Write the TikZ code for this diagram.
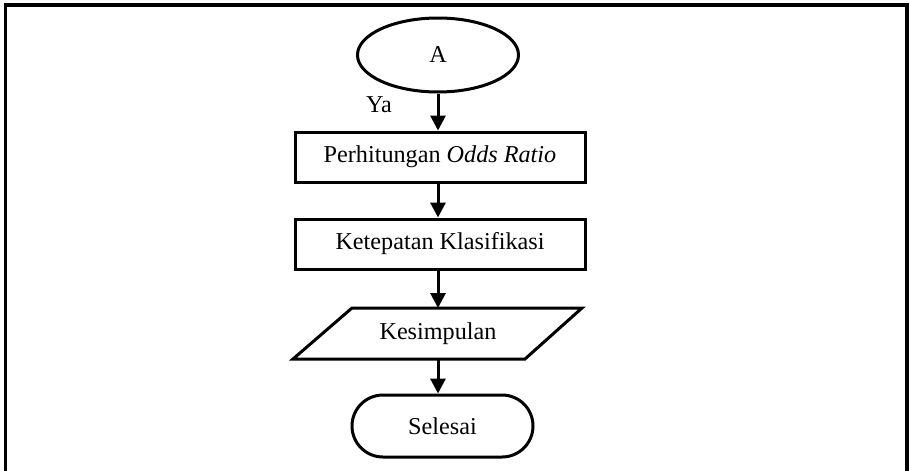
\documentclass[tikz,border=0pt]{standalone}
\usepackage{fontspec}
\setmainfont{Liberation Serif}
\usetikzlibrary{arrows.meta,shapes.geometric}
\begin{document}
\begin{tikzpicture}[x=1pt,y=-1pt,
  lw/.style={line width=3pt},
  txt/.style={font=\fontsize{24.2}{27}\selectfont},
  box/.style={lw,draw,minimum width=290pt,minimum height=50pt,inner sep=0pt,txt},
  conn/.style={line width=3pt,-{Triangle[width=15pt,length=15pt]}}]
\useasboundingbox (0,0) rectangle (910,471);
% frame
\draw[line width=3.2pt] (5.5,480) -- (5.5,5) -- (907,5) -- (907,480);
% start connector
\node[lw,draw,ellipse,minimum width=161pt,minimum height=74pt,inner sep=0pt,txt] (a) at (438,55) {A};
\node[txt] (ya) at (379,105) {Ya};
\node[box] (b1) at (440,157) {Perhitungan \textit{Odds Ratio}};
\node[box] (b2) at (440,244) {Ketepatan Klasifikasi};
% parallelogram
\coordinate (p1) at (352,308);
\coordinate (p2) at (582,308);
\coordinate (p3) at (525,359);
\coordinate (p4) at (293,359);
\draw[lw,line join=miter] (p1) -- (p2) -- (p3) -- (p4) -- cycle;
\node[txt] (k) at (438,333.5) {Kesimpulan};
\coordinate (ktop) at (438,308);
\coordinate (kbot) at (438,359);
\node[lw,draw,rounded corners=31pt,minimum width=181pt,minimum height=62pt,inner sep=0pt,txt] (s) at (442.5,426) {Selesai};
\draw[conn] (a.south) -- (b1.north -| a.south);
\draw[conn] (b1.south -| a.south) -- (b2.north -| a.south);
\draw[conn] (b2.south -| a.south) -- (ktop);
\draw[conn] (kbot) -- (s.north -| kbot);
\end{tikzpicture}
\end{document}
